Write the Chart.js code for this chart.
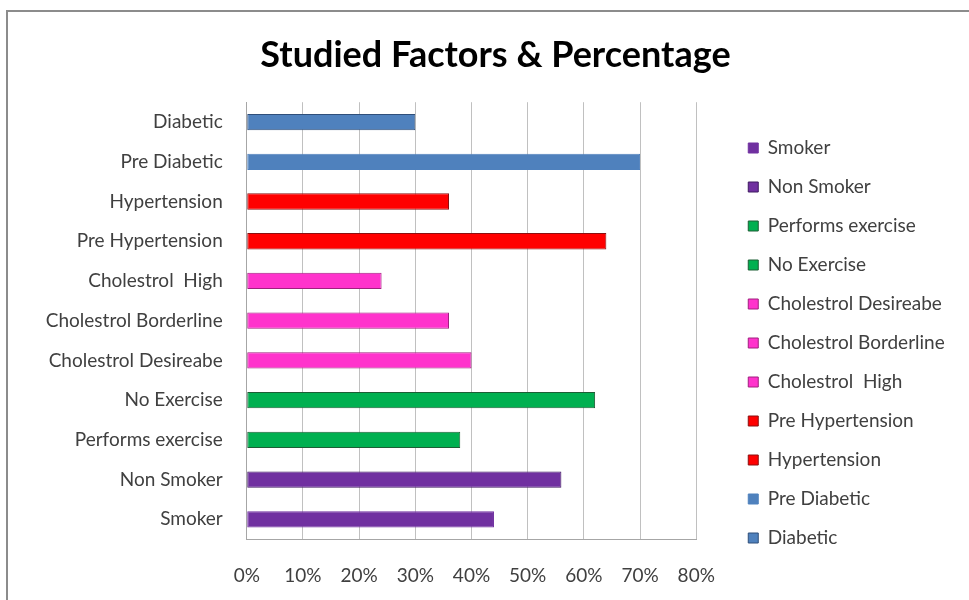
<!DOCTYPE html>
<html>
<head>
<meta charset="utf-8">
<script src="https://cdn.jsdelivr.net/npm/chart.js@4"></script>
<style>
  html, body { margin: 0; padding: 0; background: #fff; }
  #wrap { width: 969px; height: 600px; position: relative; }
</style>
</head>
<body>
<div id="wrap"><canvas id="chart" width="969" height="600"></canvas></div>
<script>
// categories, top to bottom as drawn
const categories = [
  'Diabetic', 'Pre Diabetic', 'Hypertension', 'Pre Hypertension',
  'Cholestrol  High', 'Cholestrol Borderline', 'Cholestrol Desireabe',
  'No Exercise', 'Performs exercise', 'Non Smoker', 'Smoker'
]
// percentages
const percentages = [30, 70, 36, 64, 24, 36, 40, 62, 38, 56, 44]
const fillColors = [
  '#4F81BD', '#4F81BD', '#FF0000', '#FF0000',
  '#FF33CC', '#FF33CC', '#FF33CC',
  '#00B050', '#00B050', '#7030A0', '#7030A0'
]
const edgeColors = [
  '#2F4F7A', '#4F81BD', '#8B1010', '#8B1010',
  '#A0207F', '#A0207F', '#A0207F',
  '#1D5E35', '#1D5E35', '#3F1A60', '#7030A0'
]
const xTicks = [0, 10, 20, 30, 40, 50, 60, 70, 80]

const FONT = 'Lato, "Liberation Sans", sans-serif'

// one dataset per factor so the legend lists each one
const datasets = categories.map((name, i) => ({
  label: name,
  data: categories.map((_, j) => (j === i ? percentages[i] : null)),
  backgroundColor: fillColors[i],
  borderColor: edgeColors[i],
  borderWidth: 1,
  borderSkipped: false,
  barPercentage: 0.41,
  categoryPercentage: 1
}))

// grey frame round the whole chart
const framePlugin = {
  id: 'frame',
  beforeDraw(chart) {
    const ctx = chart.ctx
    ctx.save()
    ctx.strokeStyle = '#8c8c8c'
    ctx.lineWidth = 2
    ctx.strokeRect(7, 11, 1000, 1000)
    ctx.restore()
  }
}

// nudge legend and title to where the original has them
const nudge = {
  id: 'nudge',
  afterLayout(chart) {
    chart.legend.left += 32
    chart.legend.right += 32
    chart.legend.top += 30
    chart.legend.bottom += 30
    chart.titleBlock.left += 24
    chart.titleBlock.right += 24
  }
}

new Chart(document.getElementById('chart'), {
  type: 'bar',
  data: { labels: categories, datasets: datasets },
  options: {
    indexAxis: 'y',
    responsive: false,
    animation: false,
    layout: { padding: { top: 14, left: 22, right: 48, bottom: -12 } },
    plugins: {
      title: {
        display: true,
        text: 'Studied Factors & Percentage',
        color: '#000',
        font: { family: FONT, size: 36, weight: 'bold' },
        padding: { top: 20, bottom: 25 }
      },
      legend: {
        position: 'right',
        reverse: true,
        labels: {
          color: '#404040',
          font: { family: FONT, size: 19 },
          boxWidth: 10,
          boxHeight: 10,
          padding: 20
        }
      },
      tooltip: { enabled: false }
    },
    scales: {
      x: {
        min: 0,
        max: 80,
        afterBuildTicks(axis) { axis.ticks = xTicks.map(v => ({ value: v })) },
        ticks: {
          color: '#404040',
          font: { family: FONT, size: 19 },
          padding: 25,
          callback: v => v + '%'
        },
        grid: { color: '#c0c0c0', lineWidth: 1, drawTicks: false },
        border: { color: '#a6a6a6' }
      },
      y: {
        stacked: true,
        ticks: {
          color: '#404040',
          font: { family: FONT, size: 19 },
          padding: 24
        },
        grid: { display: false, drawTicks: false },
        border: { color: '#a6a6a6' }
      }
    }
  },
  plugins: [framePlugin, nudge]
})
</script>
</body>
</html>
